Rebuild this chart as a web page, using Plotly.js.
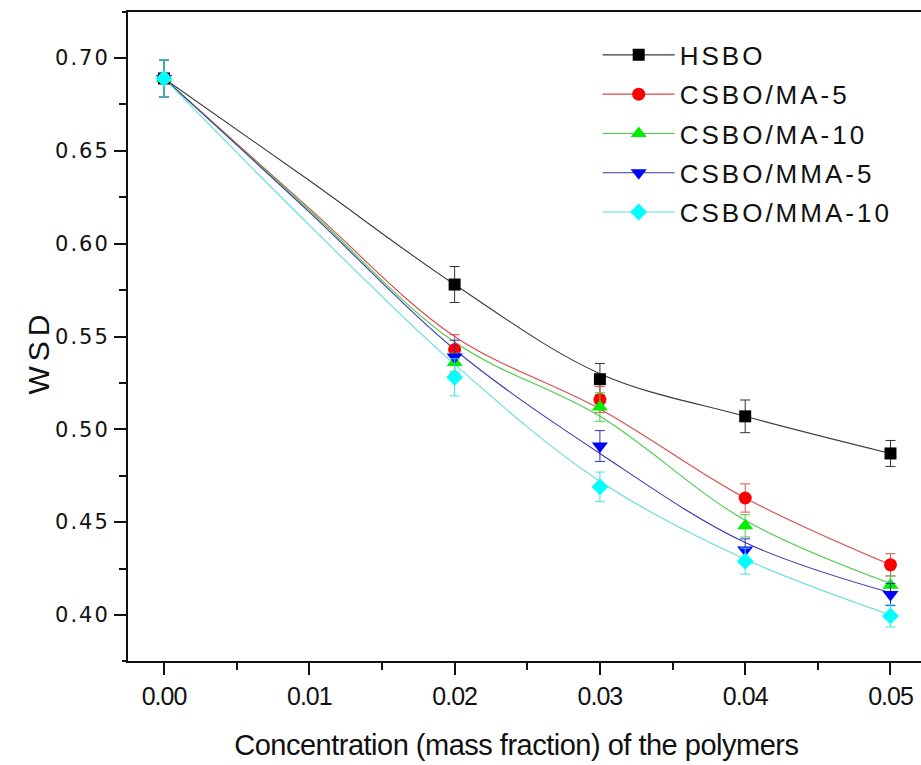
<!DOCTYPE html>
<html>
<head>
<meta charset="utf-8">
<script src="https://cdn.plot.ly/plotly-3.0.1.min.js"></script>
<style>
  html, body { margin: 0; padding: 0; background: #fff; }
  #chart { width: 921px; height: 765px; }
  .legendtext { letter-spacing: 3px; }
  .ytick text { letter-spacing: 2px; }
  .xtick text { letter-spacing: -1px; }
  .annotation[data-index="0"] text { letter-spacing: 5px; }
  .annotation[data-index="1"] text { letter-spacing: -0.5px; }
</style>
</head>
<body>
<div id="chart"></div>
<script>
// ---- data ----
const xData = [0, 0.02, 0.03, 0.04, 0.05];
const seriesNames = ["HSBO", "CSBO/MA-5", "CSBO/MA-10", "CSBO/MMA-5", "CSBO/MMA-10"];

const hsbo    = [0.689, 0.578, 0.527, 0.507, 0.487];
const hsboErr = [0.010, 0.0097, 0.0085, 0.0088, 0.007];
const ma5     = [0.689, 0.543, 0.516, 0.463, 0.427];
const ma5Err  = [0.010, 0.008, 0.007, 0.0076, 0.006];
const ma10    = [0.689, 0.536, 0.512, 0.448, 0.416];
const ma10Err = [0.010, 0.005, 0.0077, 0.006, 0.005];
const mma5    = [0.689, 0.539, 0.491, 0.435, 0.411];
const mma5Err = [0.010, 0.009, 0.0083, 0.006, 0.006];
const mma10   = [0.689, 0.528, 0.469, 0.429, 0.3995];
const mma10Err= [0.010, 0.010, 0.008, 0.007, 0.006];

// smoothed curves as drawn in the reference
const fitX     = [0, 0.01, 0.02, 0.03, 0.04, 0.05];
const hsboFit  = [0.689, 0.634, 0.578, 0.530, 0.507, 0.487];
const ma5Fit   = [0.689, 0.619, 0.550, 0.511, 0.463, 0.427];
const ma10Fit  = [0.689, 0.618, 0.547, 0.507, 0.451, 0.417];
const mma5Fit  = [0.689, 0.617, 0.543, 0.487, 0.439, 0.412];
const mma10Fit = [0.689, 0.610, 0.535, 0.472, 0.430, 0.400];

const xTickVals = [0, 0.01, 0.02, 0.03, 0.04, 0.05];
const xTickText = ["0.00", "0.01", "0.02", "0.03", "0.04", "0.05"];
const yTickVals = [0.40, 0.45, 0.50, 0.55, 0.60, 0.65, 0.70];
const yTickText = ["0.40", "0.45", "0.50", "0.55", "0.60", "0.65", "0.70"];

// ---- styles ----
const markerColors = ["#000000", "#ff0000", "#00ee00", "#0000ff", "#00ffff"];
const lineColors   = ["#3a3a3a", "#d84a4a", "#46cc46", "#3838b0", "#5fdede"];
const errColors    = ["#333333", "#e05050", "#40d040", "#3030c0", "#40e0e0"];
const symbols      = ["square", "circle", "triangle-up", "triangle-down", "diamond"];
const sizes        = [12, 13, 14, 14, 13];

const values = [hsbo, ma5, ma10, mma5, mma10];
const errors = [hsboErr, ma5Err, ma10Err, mma5Err, mma10Err];
const fits   = [hsboFit, ma5Fit, ma10Fit, mma5Fit, mma10Fit];

// insert gaps so the legend shows a line sample but no segments join the points
function gapped(arr) {
  const out = [];
  arr.forEach((v, i) => { if (i) out.push(null); out.push(v); });
  return out;
}

const traces = [];
fits.forEach((f, i) => {
  traces.push({
    type: "scatter", mode: "lines", x: fitX, y: f,
    line: { color: lineColors[i], width: 1.1, shape: "spline", smoothing: 1 },
    legendgroup: "g" + i, showlegend: false, hoverinfo: "skip"
  });
});
values.forEach((v, i) => {
  traces.push({
    type: "scatter", mode: "lines+markers", name: seriesNames[i],
    x: gapped(xData), y: gapped(v), connectgaps: false,
    legendgroup: "g" + i,
    line: { color: lineColors[i], width: 1.1 },
    marker: { symbol: symbols[i], size: sizes[i], color: markerColors[i], line: { width: 0 } },
    error_y: { type: "data", array: gapped(errors[i]), visible: true,
               color: errColors[i], thickness: 1, width: 5 }
  });
});

const layout = {
  width: 921, height: 765,
  margin: { l: 128, r: 0, t: 12, b: 104 },
  paper_bgcolor: "#fff", plot_bgcolor: "#fff",
  showlegend: true,
  legend: {
    x: 0.5923, y: 0.970, xanchor: "left", yanchor: "top",
    bgcolor: "rgba(0,0,0,0)", borderwidth: 0,
    itemwidth: 72, tracegroupgap: 2.5, traceorder: "grouped",
    font: { family: "Liberation Sans", size: 26, color: "#111" }
  },
  xaxis: {
    range: [-0.00248, 0.0521],
    tickvals: xTickVals, ticktext: xTickText,
    ticks: "outside", ticklen: 12, tickwidth: 2, tickcolor: "#111",
    minor: { dtick: 0.005, tick0: 0, ticks: "outside", ticklen: 7, tickwidth: 2, tickcolor: "#111", showgrid: false },
    showline: true, linewidth: 2, linecolor: "#111", mirror: true,
    showgrid: false, zeroline: false,
    tickfont: { family: "Liberation Sans", size: 25, color: "#111" }
  },
  yaxis: {
    range: [0.3752, 0.7248],
    tickvals: yTickVals, ticktext: yTickText,
    ticks: "outside", ticklen: 12, tickwidth: 2, tickcolor: "#111",
    minor: { dtick: 0.025, tick0: 0.4, ticks: "outside", ticklen: 7, tickwidth: 2, tickcolor: "#111", showgrid: false },
    showline: true, linewidth: 2, linecolor: "#111", mirror: false,
    showgrid: false, zeroline: false,
    tickfont: { family: "DejaVu Sans", size: 21, color: "#111" }
  },
  annotations: [
    { text: "WSD", xref: "paper", yref: "paper", x: (38 - 128) / 793, y: (661 - 352) / 649,
      xanchor: "center", yanchor: "middle", textangle: -90, showarrow: false,
      font: { family: "Liberation Sans", size: 30, color: "#111" } },
    { text: "Concentration (mass fraction) of the polymers", xref: "paper", yref: "paper",
      x: (516 - 128) / 793, y: (661 - 745) / 649, xanchor: "center", yanchor: "middle",
      showarrow: false,
      font: { family: "Liberation Sans", size: 29, color: "#111" } }
  ],
  shapes: [
    { type: "line", xref: "paper", yref: "paper", x0: -6 / 793, x1: 0, y0: 0, y1: 0,
      line: { color: "#111", width: 2 } },
    { type: "line", xref: "paper", yref: "paper", x0: -6 / 793, x1: 0, y0: 1, y1: 1,
      line: { color: "#111", width: 2 } }
  ]
};

Plotly.newPlot("chart", traces, layout, { displayModeBar: false, staticPlot: true });
</script>
</body>
</html>
